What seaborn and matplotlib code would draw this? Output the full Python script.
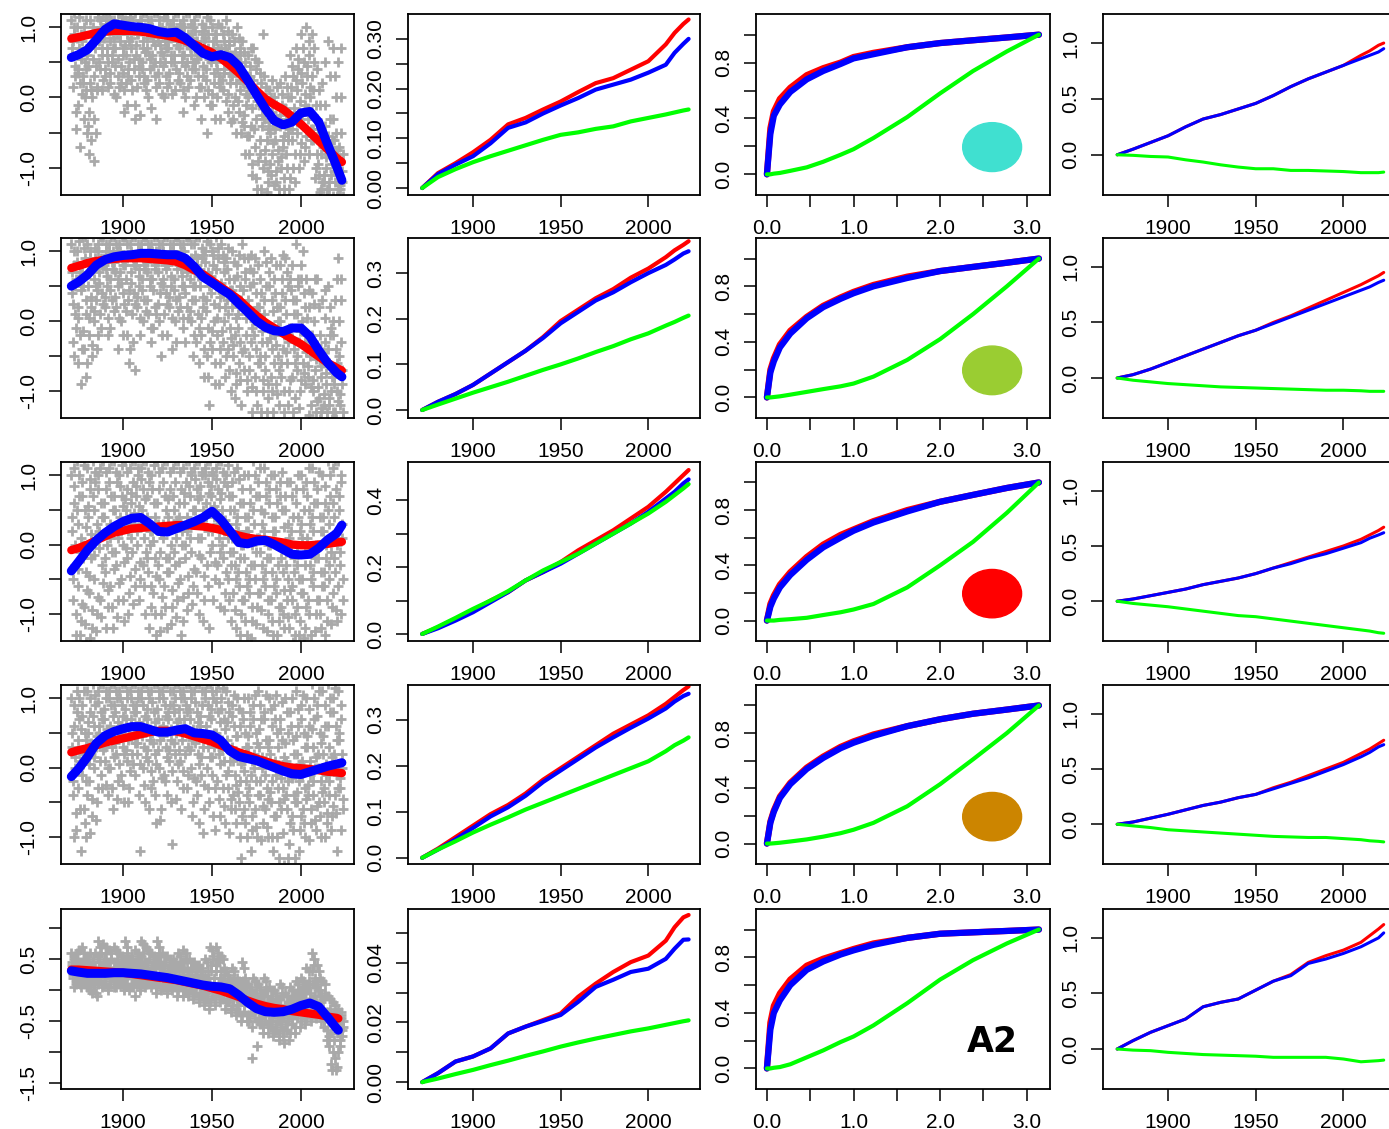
import matplotlib
matplotlib.use("Agg")
import matplotlib.pyplot as plt
import seaborn as sns
from matplotlib.patches import Ellipse

# ---------------- data ----------------
YEARS_SMOOTH = [1871, 1875, 1880, 1885, 1890, 1895, 1900, 1905, 1910, 1915, 1920, 1925, 1930,
                1935, 1940, 1945, 1950, 1955, 1960, 1965, 1970, 1975, 1980, 1985, 1990, 1995,
                2000, 2005, 2010, 2015, 2020, 2023]
YEARS_SMOOTH_R5 = YEARS_SMOOTH[:-1] + [2021]

R1_RED = [.84, .86, .89, .92, .94, .95, .95, .95, .94, .92, .90, .88, .85, .81, .76, .70, .64, .56, .46, .35, .23, .10, -.02, -.10, -.17, -.27, -.38, -.50, -.62, -.74, -.86, -.92]
R1_BLUE = [.57, .61, .68, .82, .97, 1.05, 1.03, 1.01, 1.0, .98, .94, .92, .93, .85, .74, .63, .58, .61, .57, .45, .25, .04, -.16, -.33, -.39, -.35, -.22, -.20, -.35, -.67, -.98, -1.18]
R2_RED = [.76, .79, .83, .86, .88, .89, .90, .90, .90, .89, .88, .87, .85, .80, .73, .67, .58, .49, .40, .31, .19, .08, -.02, -.10, -.18, -.26, -.33, -.42, -.51, -.60, -.67, -.71]
R2_BLUE = [.50, .56, .66, .80, .88, .92, .94, .95, .97, .97, .96, .95, .95, .90, .78, .63, .55, .46, .38, .25, .13, .0, -.09, -.14, -.15, -.10, -.10, -.22, -.42, -.60, -.74, -.80]
R3_RED = [-.08, -.05, .0, .06, .12, .17, .20, .23, .24, .25, .26, .27, .28, .28, .27, .26, .24, .21, .17, .13, .10, .08, .07, .05, .03, .0, -.01, -.01, .0, .01, .03, .04]
R3_BLUE = [-.38, -.25, -.08, .06, .17, .26, .33, .38, .39, .30, .19, .18, .23, .28, .33, .39, .48, .36, .20, .03, .01, .05, .06, .0, -.07, -.14, -.15, -.14, -.05, .07, .16, .28]
R4_RED = [.22, .25, .28, .32, .36, .39, .42, .45, .48, .51, .53, .53, .52, .49, .45, .41, .37, .32, .27, .22, .18, .13, .09, .05, .02, .0, -.01, -.02, -.04, -.06, -.07, -.08]
R4_BLUE = [-.13, -.02, .15, .35, .46, .52, .56, .59, .59, .55, .51, .51, .54, .56, .50, .49, .47, .39, .24, .16, .13, .10, .05, .0, -.05, -.09, -.10, -.06, -.02, .02, .05, .07]
R5_RED = [.33, .33, .32, .31, .30, .29, .28, .26, .24, .22, .20, .18, .16, .13, .10, .07, .03, -.01, -.06, -.11, -.17, -.22, -.26, -.29, -.31, -.34, -.36, -.38, -.40, -.43, -.45, -.46]
R5_BLUE = [.31, .29, .27, .27, .27, .28, .28, .27, .26, .24, .22, .20, .17, .14, .11, .08, .06, .05, .02, -.08, -.20, -.30, -.35, -.36, -.35, -.31, -.25, -.21, -.27, -.44, -.62, -.65]

# scatter clouds: two sets of values per 3-year bin
BIN_STARTS = list(range(1871, 2022, 3))
BIN_OFFSETS_A = [0.0, 1.5, 0.5, 2.0, 1.0, 2.5]
BIN_OFFSETS_B = [1.25, 0.25, 2.25, 0.75, 2.75, 1.75]

SCATTER_R1 = [
    [1.1, .9, .6, .3, .8, -.2], [1.0, .7, .4, .2, -.1, .9], [.8, .5, .3, .1, -.3, 1.1], [.6, .2, -.4, -.6, -.8, .9],
    [1.0, .7, .3, -.5, -.9, .1], [1.2, 1.0, .8, .6, .4, .1], [1.2, 1.1, .9, .7, .3, .5], [1.2, 1.0, .8, .5, .2, .9],
    [1.1, .9, .7, .3, .0, 1.2], [1.2, 1.0, .8, .6, .2, -.2], [1.1, .9, .6, .3, -.1, .8], [1.2, 1.0, .7, .4, .1, -.3],
    [1.2, .9, .6, .3, .9, 1.1], [1.1, .8, .5, .2, .7, 1.0], [1.2, 1.0, .7, .4, .0, .9], [1.1, .9, .6, .3, .8, -.3],
    [1.2, 1.0, .8, .5, .2, .9], [1.0, .8, .6, .3, .0, 1.1], [1.2, .9, .7, .5, .2, 1.0], [1.1, .9, .6, .4, .1, .8],
    [1.2, 1.0, .7, .5, .2, -.2], [1.1, .8, .6, .3, .0, .9], [1.2, .9, .7, .4, .6, 1.0], [1.1, .8, .5, .3, .0, .7],
    [1.2, .9, .6, .3, -.3, .8], [1.0, .7, .4, .1, -.5, .6], [1.1, .8, .5, .2, -.1, .9], [.9, .7, .5, .3, .0, -.3],
    [1.0, .8, .6, .4, .1, .7], [1.1, .8, .5, .2, -.2, .6], [.9, .6, .3, .0, -.3, .5], [1.0, .7, .4, .1, -.2, -.5],
    [.8, .5, .2, -.1, -.4, .3], [.6, .3, .0, -.4, -.8, -1.1], [.7, .4, .1, -.3, -.7, -1.3], [.5, .2, -.1, -.4, -.8, .9],
    [.3, .0, -.3, -.6, -.9, -1.2], [.1, -.2, -.5, -.8, -1.1, -.4], [.0, -.3, -.6, -.9, -1.2, -1.4], [.2, -.1, -.4, -.7, -1.0, -1.3],
    [.3, .0, -.3, -.6, -1.0, -1.3], [.6, .3, .0, -.3, -.6, -1.2], [.7, .4, .1, -.2, -.5, -.8], [.9, .5, .2, -.1, -.4, -.7],
    [1.0, .6, .3, .0, -.3, -.6], [.9, .5, .1, -.3, -.6, -1.0], [.4, -.1, -.5, -.8, -1.1, -1.3], [.2, -.4, -.7, -1.0, -1.2, -1.4],
    [.8, -.3, -.8, -1.1, -1.3, -.6], [.7, .0, -.6, -.9, -1.2, -1.4], [.5, -.5, -.9, -1.2, -1.3, -.8]]
SCATTER_R1_B = [
    [1.0, .7, .45, .15, -.45, 1.2], [1.15, .85, .55, .35, .05, -.7], [1.0, .65, .4, .2, -.5, .0], [.75, .45, .1, -.2, .0, 1.1],
    [.85, .55, .15, -.3, 1.15, .45], [1.1, .9, .7, .5, .25, .95], [1.05, .85, .6, .4, .15, 1.15], [1.1, .95, .7, .35, .05, .6],
    [1.05, .85, .55, .45, .15, .95], [1.15, .9, .7, .45, .1, .35], [1.0, .75, .5, .2, 1.15, .4], [1.1, .85, .55, .25, -.1, .95],
    [1.05, .75, .45, .15, -.25, .55], [1.2, .95, .65, .4, .1, .3], [1.1, .85, .55, .25, -.15, .6], [1.2, 1.0, .75, .45, .15, .5],
    [1.1, .9, .65, .35, .05, .75], [1.15, .9, .7, .45, .15, .5], [1.05, .8, .6, .35, .05, .85], [1.2, 1.0, .75, .5, .25, .95],
    [1.05, .85, .6, .35, .1, .9], [1.2, 1.0, .75, .45, .15, .5], [1.05, .8, .5, .25, -.1, .85], [1.2, .95, .65, .4, .15, .55],
    [1.05, .75, .45, .15, .0, .95], [1.15, .85, .55, .25, -.1, .9], [1.0, .65, .35, .05, -.3, .7], [1.05, .8, .6, .4, .15, .2],
    [.9, .7, .5, .25, -.05, .35], [.95, .65, .35, .05, -.35, .75], [.8, .5, .2, -.1, -.5, .65], [.85, .55, .25, -.05, -.35, .6],
    [.65, .35, .05, -.25, -.55, -.8], [.45, .15, -.15, -.55, -.95, .7], [.55, .25, -.05, -.45, -.9, -1.15], [.35, .05, -.25, -.6, -1.0, -1.3],
    [.15, -.15, -.45, -.75, -1.05, -1.35], [.0, -.35, -.65, -.95, -1.25, .25], [-.1, -.45, -.75, -1.05, -1.3, .15], [.05, -.25, -.55, -.85, -1.15, -.6],
    [.15, -.15, -.45, -.8, -1.15, -.5], [.45, .15, -.15, -.45, -.8, -1.0], [.55, .25, -.05, -.35, -.65, -1.0], [.7, .35, .05, -.25, -.55, -.9],
    [.8, .45, .15, -.15, -.45, -.8], [.7, .3, -.1, -.45, -.8, -1.15], [.1, -.3, -.65, -.95, -1.2, -1.35], [-.1, -.55, -.85, -1.1, -1.3, .5],
    [.3, -.55, -.95, -1.2, -1.4, -.7], [.3, -.3, -.75, -1.05, -1.3, -.5], [.0, -.7, -1.05, -1.25, -1.4, .7]]

SCATTER_R2 = [
    [1.1, .8, .4, .1, -.3, .6], [1.0, .6, .2, -.2, -.6, -.9], [1.2, .9, .5, .1, -.4, -.8], [1.1, .8, .5, .2, -.2, -.5],
    [1.2, .9, .6, .3, .0, -.4], [1.1, .9, .7, .4, .1, 1.2], [1.2, 1.0, .8, .5, .2, -.2], [1.1, .9, .6, .3, -.1, 1.0],
    [1.2, 1.0, .7, .5, .2, -.4], [1.1, .9, .7, .4, .0, 1.2], [1.2, .9, .6, .3, -.2, -.6], [1.1, .9, .7, .4, .1, -.7],
    [1.2, 1.0, .8, .5, .2, -.2], [1.1, .9, .6, .3, .0, 1.2], [1.2, 1.0, .7, .5, .1, -.3], [1.1, .9, .6, .2, -.1, 1.0],
    [1.2, 1.0, .7, .4, .0, -.5], [1.1, .9, .6, .4, .1, -.2], [1.2, 1.0, .8, .5, .2, -.4], [1.1, .9, .6, .3, .0, 1.2],
    [1.2, 1.0, .8, .5, .2, -.1], [1.1, .8, .5, .2, -.3, 1.2], [1.2, .9, .6, .3, .0, -.5], [1.1, .8, .5, .1, -.3, -.6],
    [1.2, .9, .5, .2, -.2, -.8], [1.0, .7, .3, -.1, -.5, -1.2], [1.1, .8, .4, .0, -.4, -.9], [1.2, .9, .5, .2, -.2, -.6],
    [1.1, .7, .4, .0, -.3, -.8], [.9, .6, .3, -.1, -.4, -1.0], [1.0, .6, .2, -.2, -.5, -.9], [.8, .5, .1, -.3, -.6, -1.2],
    [1.1, .6, .2, -.2, -.7, -1.0], [.9, .5, .1, -.3, -.7, -1.3], [.7, .4, .0, -.4, -.8, -1.2], [.8, .4, .0, -.3, -.6, -1.0],
    [1.0, .5, .1, -.3, -.7, -1.1], [.7, .3, -.1, -.4, -.8, -1.3], [.6, .2, -.2, -.5, -.9, -1.2], [.8, .4, .0, -.4, -.8, -1.3],
    [.9, .5, .1, -.3, -.6, -1.0], [.6, .3, -.1, -.4, -.8, -1.1], [1.1, .5, .1, -.3, -.7, -1.0], [.8, .4, .0, -.3, -.6, -.9],
    [.6, .2, -.2, -.5, -.8, -1.2], [.4, .0, -.4, -.7, -1.0, -1.3], [.6, -.2, -.5, -.8, -1.1, -1.3], [.3, -.3, -.6, -.9, -1.2, -1.4],
    [.5, -.2, -.6, -1.0, -1.2, -1.4], [.0, -.4, -.8, -1.0, -1.3, .6], [.9, .3, -.5, -.9, -1.2, -1.4]]
SCATTER_R2_B = [
    [1.0, .7, .5, .25, -.1, -.5], [1.15, .85, .45, .05, -.4, .7], [1.05, .7, .3, -.15, -.6, 1.2], [1.0, .7, .35, .05, -.35, .9],
    [1.05, .75, .45, .15, -.2, .5], [1.2, 1.0, .8, .55, .25, -.1], [1.1, .9, .65, .35, .05, .75], [1.2, 1.0, .75, .45, .15, .85],
    [1.1, .85, .6, .35, .05, .9], [1.2, 1.0, .8, .55, .25, -.2], [1.1, .8, .45, .15, -.4, .95], [1.2, 1.0, .8, .55, .25, -.3],
    [1.1, .9, .65, .35, .05, .75], [1.2, 1.0, .75, .45, .15, .8], [1.1, .85, .6, .3, -.1, .9], [1.2, 1.0, .75, .45, .1, .8],
    [1.1, .85, .55, .25, -.2, .9], [1.2, 1.0, .75, .5, .25, .8], [1.1, .9, .65, .35, .05, .9], [1.2, 1.0, .75, .45, .15, -.3],
    [1.1, .9, .65, .35, .05, .75], [1.2, 1.0, .7, .4, .05, .85], [1.1, .8, .5, .15, -.2, .75], [1.2, .95, .65, .3, -.1, .9],
    [1.05, .75, .35, .05, -.4, .95], [1.15, .85, .5, .15, -.3, -.8], [1.0, .65, .25, -.15, -.6, .95], [1.05, .75, .35, .05, -.4, -.9],
    [.95, .55, .2, -.15, -.5, .85], [1.05, .75, .45, .1, -.25, -.7], [.85, .45, .05, -.35, -.75, -1.1], [.95, .65, .3, -.1, -.45, -.85],
    [.9, .45, .05, -.4, -.85, .7], [.75, .3, -.1, -.5, -.95, .95], [.9, .55, .2, -.2, -.6, -1.0], [.6, .2, -.15, -.5, -.85, -1.3],
    [.85, .3, -.1, -.5, -.9, -1.3], [.9, .5, .15, -.25, -.6, -1.0], [.8, .4, .0, -.35, -.7, -1.05], [.6, .2, -.2, -.6, -1.0, .95],
    [.7, .3, -.1, -.45, -.85, -1.2], [.8, .45, .1, -.25, -.6, -1.3], [.6, .3, -.15, -.5, -.85, -1.25], [1.0, .6, .2, -.15, -.45, -.75],
    [.45, .05, -.35, -.65, -.95, -1.35], [.25, -.2, -.55, -.85, -1.15, .6], [.2, -.35, -.65, -.95, -1.25, -1.4], [.05, -.45, -.75, -1.05, -1.3, .45],
    [.2, -.4, -.8, -1.1, -1.3, -.1], [.3, -.2, -.6, -.9, -1.15, -1.4], [.6, .0, -.7, -1.05, -1.3, -.3]]

SCATTER_R3 = [
    [1.0, .6, .2, -.3, -.8, -1.3], [1.2, .7, .3, -.1, -.6, -1.1], [.9, .5, .0, -.4, -.9, -1.4], [1.1, .8, .4, -.2, -.7, -1.2],
    [1.2, .9, .5, .1, -.5, -1.0], [1.0, .6, .2, -.3, -.8, 1.2], [1.2, .8, .4, .0, -.4, -.9], [1.1, .7, .3, -.1, -.6, -1.2],
    [1.2, .9, .5, .1, -.3, -.8], [1.0, .7, .4, .0, -.5, -1.1], [1.2, .8, .5, .2, -.2, -.7], [1.1, .9, .6, .3, -.1, -.6],
    [1.2, 1.0, .7, .4, .0, -.5], [1.1, .8, .5, .1, -.3, -1.0], [1.2, .9, .4, .0, -.4, -.9], [1.0, .6, .2, -.2, -.7, -1.3],
    [1.2, .8, .3, -.1, -.5, -1.0], [1.1, .7, .3, -.2, -.6, -1.2], [1.2, .8, .4, .0, -.4, -.9], [1.1, .9, .5, .1, -.3, -.8],
    [1.2, .8, .4, .0, -.5, -1.1], [1.1, .9, .6, .2, -.2, -.7], [1.2, 1.0, .7, .3, -.1, -.6], [1.1, .8, .5, .1, -.4, -1.0],
    [1.2, 1.0, .7, .3, -.2, -.8], [1.1, .9, .6, .2, -.3, -1.2], [1.2, 1.0, .7, .4, .0, -.5], [1.1, .8, .5, .1, -.3, -.9],
    [1.2, .9, .5, .2, -.2, -.7], [1.0, .7, .3, -.1, -.5, -1.1], [.9, .5, .1, -.3, -.7, -1.2], [1.1, .6, .2, -.2, -.6, -1.0],
    [.8, .4, .0, -.4, -.8, -1.3], [1.0, .6, .2, -.3, -.7, -1.1], [1.2, .7, .3, -.1, -.5, -.9], [.9, .5, .1, -.3, -.7, -1.2],
    [1.1, .7, .2, -.2, -.6, -1.0], [.8, .4, .0, -.4, -.8, -1.3], [1.0, .6, .2, -.3, -.7, -1.1], [.9, .5, .0, -.4, -.9, -1.2],
    [.7, .3, -.1, -.5, -.8, -1.2], [.9, .4, .0, -.4, -.8, -1.3], [.8, .4, -.1, -.5, -.9, -1.1], [1.0, .5, .1, -.3, -.7, -1.2],
    [.9, .5, .1, -.3, -.8, -1.3], [1.1, .6, .2, -.2, -.6, -1.0], [.8, .4, .0, -.4, -.8, -1.2], [1.0, .6, .2, -.2, -.6, -1.1],
    [1.2, .7, .3, -.1, -.5, -.9], [1.1, .8, .4, .0, -.4, -1.1], [1.2, .9, .5, .1, -.3, -.8]]
SCATTER_R3_B = [
    [.85, .4, .0, -.5, -1.0, 1.1], [1.0, .5, .1, -.35, -.85, -1.3], [1.15, .7, .25, -.2, -.65, -1.15], [.95, .55, .15, -.45, -.95, -1.35],
    [1.05, .7, .3, -.15, -.75, -1.25], [1.1, .8, .4, -.05, -.55, -1.05], [1.05, .6, .2, -.2, -.65, -1.2], [1.2, .9, .5, .1, -.35, -.9],
    [1.05, .7, .3, -.1, -.55, -1.05], [1.15, .85, .55, .2, -.25, -.8], [1.05, .65, .3, -.05, -.45, -1.0], [1.2, .75, .45, .1, -.35, -.85],
    [1.1, .85, .55, .2, -.25, -.8], [1.2, .95, .65, .3, -.1, -.6], [1.05, .7, .2, -.2, -.6, -1.2], [1.15, .8, .4, .05, -.45, -1.0],
    [1.05, .6, .15, -.3, -.75, -1.25], [1.2, .9, .5, .1, -.4, -.9], [1.05, .65, .25, -.2, -.65, -1.15], [1.2, .7, .35, -.1, -.55, -1.05],
    [1.05, .6, .2, -.25, -.75, -1.3], [1.2, .75, .4, .0, -.45, -.95], [1.05, .85, .5, .1, -.35, -.85], [1.2, .95, .65, .3, -.15, -.7],
    [1.05, .85, .5, .1, -.45, -1.1], [1.2, 1.0, .75, .4, -.1, -.6], [1.05, .85, .55, .2, -.25, -.8], [1.2, .95, .65, .3, -.1, -.55],
    [1.05, .75, .35, .0, -.4, -.95], [1.15, .85, .5, .1, -.3, -.8], [1.05, .7, .3, -.1, -.5, -.95], [.95, .4, .0, -.4, -.8, -1.3],
    [1.0, .6, .2, -.2, -.6, -1.1], [.8, .4, .0, -.5, -.9, -1.35], [1.0, .5, .1, -.3, -.7, -1.15], [1.1, .7, .3, -.1, -.5, -.95],
    [.9, .45, .0, -.4, -.8, -1.25], [1.0, .6, .2, -.2, -.6, -1.1], [.8, .4, .0, -.5, -.9, -1.3], [1.05, .7, .25, -.2, -.65, -1.0],
    [.9, .5, .1, -.3, -.65, -1.05], [.7, .2, -.2, -.6, -1.0, -1.4], [1.0, .6, .2, -.3, -.7, -1.3], [.8, .3, -.1, -.5, -.9, -1.35],
    [1.1, .7, .3, -.1, -.5, -1.0], [.9, .4, .0, -.4, -.8, -1.25], [1.05, .6, .2, -.2, -.6, -1.0], [.85, .4, .0, -.4, -.8, -1.3],
    [1.0, .5, .1, -.3, -.7, -1.15], [1.2, .6, .2, -.2, -.6, -.95], [1.0, .7, .3, -.1, -.5, -1.0]]

SCATTER_R4 = [
    [1.0, .6, .3, .0, -.4, -.9], [1.1, .7, .4, .1, -.3, -1.2], [.9, .5, .2, -.2, -.6, -1.0], [1.1, .8, .5, .2, -.2, -.7],
    [1.2, .9, .6, .3, .0, -.5], [1.1, .8, .6, .4, .1, -.3], [1.2, 1.0, .7, .4, .1, -.4], [1.1, .9, .6, .3, .0, -.6],
    [1.2, 1.0, .8, .5, .2, -.2], [1.1, .9, .6, .3, -.1, -.5], [1.2, 1.0, .7, .4, .1, -.3], [1.1, .9, .7, .5, .2, -.1],
    [1.2, 1.0, .8, .5, .2, -1.2], [1.1, .9, .6, .3, .0, -.5], [1.2, 1.0, .7, .4, .1, -.3], [1.1, .8, .5, .2, -.2, -.8],
    [1.2, 1.0, .7, .4, .0, -.6], [1.1, .9, .6, .3, -.1, -.4], [1.2, .9, .7, .4, .1, -1.1], [1.1, 1.0, .8, .5, .2, -.2],
    [1.2, 1.0, .7, .4, .1, -.3], [1.1, .9, .7, .5, .2, -.1], [1.2, 1.0, .7, .4, .0, -.5], [1.1, .8, .5, .2, -.2, -.8],
    [1.2, .9, .6, .3, -.1, -.6], [1.1, .9, .6, .3, .0, -.5], [1.2, 1.0, .7, .3, -.1, -.9], [1.1, .8, .5, .2, -.2, -.7],
    [1.0, .7, .4, .1, -.3, -.8], [1.1, .8, .4, .1, -.3, -.6], [.9, .6, .3, -.1, -.4, -.8], [1.0, .6, .2, -.2, -.5, -1.3],
    [.8, .5, .1, -.2, -.6, -1.0], [1.0, .6, .3, -.1, -.5, -.9], [.9, .5, .2, -.2, -.6, -1.0], [1.1, .7, .3, .0, -.4, -.8],
    [.8, .4, .1, -.3, -.6, -1.0], [1.0, .6, .2, -.2, -.5, -1.2], [.9, .5, .1, -.3, -.7, -1.3], [.7, .4, .0, -.3, -.6, -1.4],
    [1.0, .5, .1, -.2, -.6, -1.1], [.8, .4, .0, -.4, -.7, -1.3], [1.1, .6, .2, -.2, -.5, -.9], [.9, .5, .1, -.3, -.6, -1.0],
    [1.0, .6, .3, -.1, -.4, -.8], [1.2, .7, .3, .0, -.4, -.9], [.9, .5, .2, -.2, -.5, -1.0], [1.1, .6, .2, -.1, -.5, -.8],
    [1.2, .8, .3, .0, -.4, -.7], [1.0, .6, .2, -.1, -.4, -1.2], [1.1, .7, .4, .0, -.3, -.6]]
SCATTER_R4_B = [
    [.9, .5, .15, -.2, -.65, -1.0], [1.0, .8, .55, .25, -.1, -.6], [1.1, .75, .4, .05, -.4, -.8], [1.0, .65, .35, .05, -.45, -.95],
    [1.05, .75, .45, .15, -.3, -.75], [1.2, .95, .7, .5, .25, -.1], [1.1, .85, .55, .3, .0, -.25], [1.2, 1.0, .75, .45, .15, -.3],
    [1.1, .9, .65, .35, .05, -.45], [1.2, 1.0, .75, .5, .2, -.25], [1.1, .85, .55, .25, -.05, -.5], [1.2, 1.0, .8, .6, .35, .05],
    [1.1, .9, .65, .35, .05, -.4], [1.2, 1.0, .75, .45, .15, -.25], [1.1, .85, .55, .25, -.05, -.6], [1.2, .95, .65, .35, .05, -.4],
    [1.1, .85, .55, .25, -.15, -.75], [1.2, 1.0, .75, .45, .15, -.2], [1.1, .8, .55, .25, -.05, -.5], [1.2, .9, .65, .35, .05, -.45],
    [1.1, .85, .55, .25, -.05, -.6], [1.2, 1.0, .8, .55, .3, -.3], [1.1, .85, .55, .25, -.15, -.7], [1.2, .95, .65, .35, .05, -.4],
    [1.1, .75, .45, .15, -.25, -.95], [1.2, 1.0, .75, .45, .15, -.3], [1.1, .85, .5, .15, -.3, -.7], [1.2, .95, .65, .35, .05, -.45],
    [1.15, .85, .55, .25, -.1, -.55], [.95, .65, .25, -.05, -.45, -.95], [1.05, .75, .45, .1, -.25, -.6], [.85, .45, .05, -.35, -.7, -1.0],
    [1.0, .7, .3, -.05, -.4, -.8], [.8, .45, .1, -.3, -.7, -1.2], [1.05, .7, .35, .0, -.4, -.85], [.9, .55, .15, -.2, -.55, -1.05],
    [1.05, .7, .3, -.1, -.45, -.85], [.85, .4, .05, -.35, -.7, -1.0], [1.05, .7, .3, -.1, -.5, -1.0], [.95, .55, .15, -.15, -.45, -.95],
    [.8, .35, -.05, -.4, -.8, -1.3], [1.0, .6, .2, -.15, -.5, -.9], [.85, .45, .05, -.35, -.7, -1.2], [1.05, .7, .3, -.1, -.45, -.8],
    [.85, .45, .1, -.25, -.6, -1.05], [1.0, .55, .15, -.2, -.55, -.75], [1.1, .75, .35, .0, -.35, -.7], [.9, .45, .05, -.3, -.65, -1.0],
    [1.0, .6, .15, -.2, -.55, -.9], [1.15, .8, .4, .05, -.3, -.65], [.9, .5, .2, -.15, -.45, -.9]]

SCATTER_R5 = [
    [.6, .5, .4, .3, .2, .1], [.6, .45, .35, .25, .15, .05], [.7, .5, .35, .2, .1, .3], [.55, .4, .3, .2, .1, -.05],
    [.5, .35, .25, .15, .05, -.1], [.8, .6, .45, .3, .15, .05], [.75, .6, .4, .25, .1, .0], [.65, .5, .35, .2, .1, .3],
    [.7, .5, .35, .2, .05, .4], [.6, .45, .3, .2, .1, .0], [.8, .6, .4, .25, .1, .0], [.5, .4, .3, .2, .1, -.1],
    [.65, .5, .35, .2, .1, .0], [.8, .6, .4, .25, .15, .05], [.7, .5, .35, .2, .1, .3], [.6, .45, .3, .2, .1, -.05],
    [.8, .6, .4, .25, .1, .0], [.6, .45, .3, .15, .05, -.05], [.55, .4, .3, .2, .1, .0], [.5, .4, .25, .15, .05, -.1],
    [.6, .45, .3, .15, .05, -.1], [.65, .5, .3, .15, .0, -.1], [.5, .35, .2, .1, .0, -.15], [.45, .3, .2, .1, -.05, -.2],
    [.4, .3, .15, .0, -.1, -.25], [.5, .3, .15, .0, -.15, -.3], [.7, .5, .3, .1, -.1, -.25], [.7, .5, .3, .1, -.05, -.2],
    [.55, .35, .15, .0, -.15, -.3], [.3, .15, .0, -.1, -.2, -.35], [.35, .2, .05, -.1, -.25, -.4], [.2, .05, -.1, -.2, -.35, -.5],
    [.45, .2, .0, -.2, -.35, -.5], [.1, -.05, -.2, -.35, -.5, -1.1], [.2, .0, -.15, -.3, -.45, -.9], [.1, -.1, -.25, -.4, -.55, -.7],
    [.2, .0, -.2, -.35, -.5, -.7], [.05, -.15, -.3, -.45, -.6, -.75], [.0, -.2, -.35, -.5, -.65, -.8], [.1, -.1, -.3, -.45, -.6, -.85],
    [-.05, -.2, -.35, -.5, -.65, -.8], [.05, -.1, -.25, -.4, -.55, -.7], [.15, .0, -.15, -.3, -.45, -.6], [.2, .05, -.1, -.25, -.4, -.55],
    [.35, .15, .0, -.15, -.3, -.5], [.6, .4, .1, -.1, -.25, -.45], [.4, .2, .0, -.2, -.35, -.5], [.15, -.1, -.3, -.45, -.6, -.8],
    [-.1, -.3, -.5, -.7, -.9, -1.3], [-.2, -.35, -.5, -.7, -1.1, -1.25], [-.3, -.45, -.6, -.75, -.9, -.5]]
SCATTER_R5_B = [
    [.55, .45, .35, .25, .15, .05], [.65, .5, .4, .3, .2, .1], [.6, .45, .3, .15, .05, .4], [.6, .45, .35, .25, .15, .0],
    [.6, .45, .3, .2, .1, -.05], [.7, .55, .4, .25, .1, .35], [.7, .5, .35, .2, .05, .45], [.6, .45, .3, .15, .05, .25],
    [.65, .45, .3, .15, .1, .25], [.55, .4, .25, .15, .05, .35], [.7, .5, .35, .2, .05, .45], [.55, .45, .35, .25, .15, .05],
    [.6, .45, .3, .15, .05, .4], [.75, .55, .35, .2, .1, .45], [.65, .45, .3, .15, .05, .25], [.55, .4, .25, .15, .05, .35],
    [.7, .5, .35, .2, .05, .45], [.55, .4, .25, .1, .0, .2], [.5, .35, .25, .15, .05, .3], [.45, .35, .2, .1, .0, .3],
    [.55, .4, .25, .1, .0, .35], [.6, .45, .25, .1, -.05, .35], [.45, .3, .15, .05, -.05, .25], [.4, .25, .15, .05, -.1, .35],
    [.35, .25, .1, -.05, -.15, .2], [.45, .25, .1, -.05, -.2, .2], [.65, .4, .2, .05, -.15, .55], [.6, .4, .2, .05, -.1, .45],
    [.5, .3, .1, -.05, -.2, .25], [.25, .1, -.05, -.15, -.3, .2], [.3, .15, .0, -.15, -.3, .1], [.15, .0, -.15, -.25, -.4, .1],
    [.35, .15, -.05, -.25, -.4, .05], [.05, -.1, -.25, -.4, -.6, .0], [.15, -.05, -.2, -.35, -.5, -.1], [.05, -.15, -.3, -.45, -.6, -.05],
    [.15, -.05, -.25, -.4, -.55, -.1], [.0, -.2, -.35, -.5, -.65, -.1], [-.05, -.25, -.4, -.55, -.7, -.15], [.05, -.15, -.35, -.5, -.65, -.75],
    [-.1, -.25, -.4, -.55, -.7, -.3], [.0, -.15, -.3, -.45, -.6, -.2], [.1, -.05, -.2, -.35, -.5, -.1], [.15, .0, -.15, -.3, -.45, -.05],
    [.3, .1, -.05, -.2, -.35, .05], [.5, .3, .05, -.15, -.3, .2], [.3, .1, -.1, -.25, -.4, .0], [.1, -.15, -.35, -.5, -.65, -.05],
    [-.15, -.35, -.55, -.75, -1.0, -1.2], [-.25, -.4, -.55, -.8, -1.0, -1.3], [-.35, -.5, -.65, -.8, -.6, -.4]]

# cumulative (col 2) and trend (col 4) series on a common year grid
YEARS = [1871, 1880, 1890, 1900, 1910, 1920, 1930, 1940, 1950, 1960, 1970, 1980, 1990, 2000, 2010, 2015, 2020, 2023]

C2_R1_RED = [0, .03, .05, .072, .097, .128, .141, .158, .174, .193, .211, .221, .238, .255, .289, .312, .330, .339]
C2_R1_BLUE = [0, .028, .047, .064, .090, .121, .132, .150, .166, .181, .198, .208, .218, .232, .248, .272, .290, .300]
C2_R1_GREEN = [0, .022, .038, .052, .064, .075, .086, .097, .107, .112, .119, .124, .134, .141, .148, .152, .156, .158]
C2_R2_RED = [0, .018, .035, .055, .080, .105, .130, .160, .195, .220, .245, .265, .290, .310, .335, .350, .362, .370]
C2_R2_BLUE = [0, .018, .035, .055, .080, .105, .130, .158, .190, .215, .240, .258, .280, .300, .318, .330, .343, .348]
C2_R2_GREEN = [0, .012, .025, .038, .050, .062, .075, .088, .100, .113, .127, .140, .155, .168, .185, .193, .202, .207]
C2_R3_RED = [0, .020, .045, .070, .100, .125, .160, .185, .215, .250, .280, .310, .345, .380, .425, .450, .475, .490]
C2_R3_BLUE = [0, .017, .040, .065, .095, .125, .160, .185, .210, .240, .270, .300, .330, .365, .405, .425, .450, .462]
C2_R3_GREEN = [0, .022, .048, .075, .100, .128, .160, .190, .215, .240, .270, .300, .330, .360, .395, .415, .435, .448]
C2_R4_RED = [0, .020, .045, .070, .095, .115, .140, .170, .195, .220, .245, .270, .290, .310, .335, .350, .365, .373]
C2_R4_BLUE = [0, .018, .040, .065, .090, .110, .135, .165, .190, .215, .240, .262, .283, .303, .325, .340, .352, .357]
C2_R4_GREEN = [0, .018, .036, .055, .072, .088, .105, .120, .135, .150, .165, .180, .195, .210, .232, .245, .255, .262]
C2_R5_RED = [0, .0030, .0069, .0086, .0113, .0163, .0186, .0208, .0230, .0286, .0330, .0369, .0402, .0424, .0474, .0519, .0552, .0560]
C2_R5_BLUE = [0, .0030, .0069, .0086, .0113, .0163, .0186, .0205, .0225, .0269, .0319, .0343, .0369, .0380, .0413, .0447, .0477, .0478]
C2_R5_GREEN = [0, .0012, .0027, .0041, .0057, .0072, .0088, .0103, .0119, .0133, .0146, .0158, .0170, .0180, .0192, .0198, .0204, .0207]

C4_R1_RED = [0, .05, .11, .17, .25, .32, .36, .41, .46, .53, .61, .68, .74, .80, .89, .93, .98, 1.0]
C4_R1_BLUE = [0, .05, .11, .17, .25, .32, .36, .41, .46, .53, .61, .68, .74, .80, .86, .89, .92, .95]
C4_R1_GREEN = [0, -.005, -.015, -.02, -.045, -.065, -.09, -.11, -.125, -.125, -.14, -.14, -.145, -.15, -.16, -.16, -.16, -.155]
C4_R2_RED = [0, .03, .08, .14, .20, .26, .32, .38, .43, .50, .56, .63, .70, .77, .84, .88, .92, .95]
C4_R2_BLUE = [0, .03, .08, .14, .20, .26, .32, .38, .43, .49, .55, .61, .67, .73, .79, .82, .86, .88]
C4_R2_GREEN = [0, -.02, -.035, -.05, -.06, -.07, -.08, -.085, -.09, -.095, -.10, -.105, -.11, -.11, -.115, -.12, -.12, -.12]
C4_R3_RED = [0, .02, .05, .08, .11, .15, .18, .21, .25, .30, .35, .40, .45, .50, .56, .60, .64, .67]
C4_R3_BLUE = [0, .02, .05, .08, .11, .15, .18, .21, .25, .30, .34, .39, .43, .48, .53, .57, .60, .62]
C4_R3_GREEN = [0, -.02, -.035, -.05, -.07, -.09, -.11, -.13, -.14, -.16, -.18, -.20, -.22, -.24, -.26, -.27, -.285, -.29]
C4_R4_RED = [0, .02, .055, .09, .13, .17, .20, .24, .27, .33, .38, .44, .50, .56, .64, .68, .73, .76]
C4_R4_BLUE = [0, .02, .055, .09, .13, .17, .20, .24, .27, .32, .37, .42, .48, .54, .61, .65, .70, .72]
C4_R4_GREEN = [0, -.015, -.03, -.05, -.06, -.07, -.08, -.09, -.10, -.11, -.115, -.12, -.12, -.13, -.14, -.15, -.155, -.16]
C4_R5_RED = [0, .075, .15, .21, .27, .38, .42, .45, .53, .61, .67, .78, .84, .89, .96, 1.02, 1.08, 1.12]
C4_R5_BLUE = [0, .075, .15, .21, .27, .38, .42, .45, .53, .61, .66, .77, .81, .86, .92, .96, 1.0, 1.045]
C4_R5_GREEN = [0, -.01, -.015, -.03, -.04, -.05, -.055, -.06, -.065, -.075, -.075, -.075, -.075, -.09, -.115, -.11, -.105, -.10]

# curves in column 3 (x from 0 to pi)
C3_X = [0, 0.04, 0.08, 0.15, 0.27, 0.46, 0.65, 0.85, 1.0, 1.23, 1.62, 2.0, 2.38, 2.77, 3.14]
C3_R1_RED = [0, .33, .45, .54, .62, .71, .76, .80, .84, .87, .91, .94, .96, .98, 1.0]
C3_R1_BLUE = [0, .29, .42, .50, .59, .68, .74, .79, .83, .86, .91, .94, .96, .98, 1.0]
C3_R1_GREEN = [0, 0, .005, .01, .025, .05, .09, .14, .18, .26, .41, .58, .74, .88, 1.0]
C3_R2_RED = [0, .20, .28, .38, .48, .58, .66, .72, .76, .81, .87, .91, .94, .97, 1.0]
C3_R2_BLUE = [0, .18, .26, .36, .46, .57, .65, .71, .75, .80, .86, .91, .94, .97, 1.0]
C3_R2_GREEN = [0, 0, .003, .008, .02, .04, .06, .08, .10, .15, .27, .42, .60, .80, 1.0]
C3_R3_RED = [0, .12, .18, .26, .35, .46, .55, .62, .66, .72, .80, .86, .91, .96, 1.0]
C3_R3_BLUE = [0, .10, .16, .24, .33, .44, .53, .60, .65, .71, .79, .86, .91, .96, 1.0]
C3_R3_GREEN = [0, 0, 0, .005, .01, .02, .04, .06, .08, .12, .24, .40, .57, .78, 1.0]
C3_R4_RED = [0, .16, .24, .34, .44, .55, .63, .70, .74, .79, .85, .90, .94, .97, 1.0]
C3_R4_BLUE = [0, .15, .23, .33, .43, .54, .62, .69, .73, .78, .85, .90, .94, .97, 1.0]
C3_R4_GREEN = [0, 0, .002, .006, .015, .03, .05, .075, .10, .15, .27, .43, .61, .80, 1.0]
C3_R5_RED = [0, .33, .45, .54, .64, .74, .79, .83, .86, .90, .94, .97, .98, .99, 1.0]
C3_R5_BLUE = [0, .28, .40, .49, .60, .71, .77, .82, .85, .89, .94, .97, .98, .99, 1.0]
C3_R5_GREEN = [0, 0, .005, .01, .03, .08, .13, .19, .23, .31, .47, .64, .78, .90, 1.0]

DOT_COLORS = ["#40E0D0", "#9ACD32", "#FF0000", "#CC8500", None]
PANEL_TAG = "A2"

C1_YTICKS = [[-1.0, -0.5, 0.0, 0.5, 1.0]] * 4 + [[-1.5, -1.0, -0.5, 0.0, 0.5, 1.0]]
C1_YLABELS = [["-1.0", "", "0.0", "", "1.0"]] * 4 + [["-1.5", "", "-0.5", "", "0.5", ""]]
C2_YTICKS = [[0, .05, .10, .15, .20, .25, .30], [0, .1, .2, .3], [0, .1, .2, .3, .4], [0, .1, .2, .3],
             [0, .01, .02, .03, .04, .05]]
C2_YLABELS = [["0.00", "", "0.10", "", "0.20", "", "0.30"], ["0.0", "0.1", "0.2", "0.3"],
              ["0.0", "", "0.2", "", "0.4"], ["0.0", "0.1", "0.2", "0.3"], ["0.00", "", "0.02", "", "0.04", ""]]
YEAR_TICKS = [1900, 1950, 2000]
YEAR_LABELS = ["1900", "1950", "2000"]
C3_XTICKS = [0, .5, 1, 1.5, 2, 2.5, 3]
C3_XLABELS = ["0.0", "", "1.0", "", "2.0", "", "3.0"]
C3_YTICKS = [0, .2, .4, .6, .8, 1.0]
C3_YLABELS = ["0.0", "", "0.4", "", "0.8", ""]
C4_YTICKS = [0, .5, 1.0]
C4_YLABELS = ["0.0", "0.5", "1.0"]

# ---------------- layout ----------------
sns.set_style("white")
plt.rcParams["font.family"] = ["Liberation Sans", "DejaVu Sans"]

W, H = 1389, 1129
fig = plt.figure(figsize=(W / 100, H / 100), dpi=100)

COL_X = [(61, 354), (408, 700), (756, 1050), (1103, 1396)]
ROW_Y = [(14, 195), (238, 418), (462, 641), (685, 864), (909, 1089)]
C1_YLIM = [(-1.39, 1.19)] * 4 + [(-1.6, 1.31)]
C2_YLIM = [(-0.014, 0.350), (-0.0175, 0.377), (-0.021, 0.514), (-0.0135, 0.376), (-0.0023, 0.058)]

RED, BLUE, GREEN, GRAY = "#FF0000", "#0000FF", "#00FF00", "#A9A9A9"


def add_ax(r, c):
    (l, rr), (t, b) = COL_X[c], ROW_Y[r]
    return fig.add_axes([l / W, 1 - b / H, (rr - l) / W, (b - t) / H])


def style(ax, xlim, ylim, xticks, xlabels, yticks, ylabels):
    ax.set_xlim(xlim)
    ax.set_ylim(ylim)
    ax.set_xticks(xticks)
    ax.set_xticklabels(xlabels)
    ax.set_yticks(yticks)
    ax.set_yticklabels(ylabels, rotation=90, va="center")
    ax.tick_params(axis="both", direction="out", length=8.5, width=1.1, labelsize=15,
                   colors="black", bottom=True, left=True)
    ax.tick_params(axis="x", pad=8.5)
    ax.tick_params(axis="y", pad=8)
    for s in ax.spines.values():
        s.set_visible(True)
        s.set_color("black")
        s.set_linewidth(1.3)
    ax.set_xlabel("")
    ax.set_ylabel("")
    ax.grid(False)


def line(ax, x, y, color, lw):
    sns.lineplot(x=x, y=y, ax=ax, color=color, linewidth=lw, estimator=None, sort=False,
                 solid_capstyle="round", solid_joinstyle="round")


SCATTERS = [(SCATTER_R1, SCATTER_R1_B), (SCATTER_R2, SCATTER_R2_B), (SCATTER_R3, SCATTER_R3_B),
            (SCATTER_R4, SCATTER_R4_B), (SCATTER_R5, SCATTER_R5_B)]
SMOOTH = [(R1_RED, R1_BLUE), (R2_RED, R2_BLUE), (R3_RED, R3_BLUE), (R4_RED, R4_BLUE), (R5_RED, R5_BLUE)]
CUM = [(C2_R1_RED, C2_R1_BLUE, C2_R1_GREEN), (C2_R2_RED, C2_R2_BLUE, C2_R2_GREEN),
       (C2_R3_RED, C2_R3_BLUE, C2_R3_GREEN), (C2_R4_RED, C2_R4_BLUE, C2_R4_GREEN),
       (C2_R5_RED, C2_R5_BLUE, C2_R5_GREEN)]
CURVES = [(C3_R1_RED, C3_R1_BLUE, C3_R1_GREEN), (C3_R2_RED, C3_R2_BLUE, C3_R2_GREEN),
          (C3_R3_RED, C3_R3_BLUE, C3_R3_GREEN), (C3_R4_RED, C3_R4_BLUE, C3_R4_GREEN),
          (C3_R5_RED, C3_R5_BLUE, C3_R5_GREEN)]
TRENDS = [(C4_R1_RED, C4_R1_BLUE, C4_R1_GREEN), (C4_R2_RED, C4_R2_BLUE, C4_R2_GREEN),
          (C4_R3_RED, C4_R3_BLUE, C4_R3_GREEN), (C4_R4_RED, C4_R4_BLUE, C4_R4_GREEN),
          (C4_R5_RED, C4_R5_BLUE, C4_R5_GREEN)]

for r in range(5):
    # column 1: scatter + smooth lines
    ax = add_ax(r, 0)
    xs, ys = [], []
    set_a, set_b = SCATTERS[r]
    for offsets, data in ((BIN_OFFSETS_A, set_a), (BIN_OFFSETS_B, set_b)):
        for start, vals in zip(BIN_STARTS, data):
            for off, v in zip(offsets, vals):
                xs.append(start + off)
                ys.append(v)
    sns.scatterplot(x=xs, y=ys, ax=ax, marker="+", color=GRAY, s=42, linewidth=2.0, zorder=1)
    yrs = YEARS_SMOOTH_R5 if r == 4 else YEARS_SMOOTH
    red, blue = SMOOTH[r]
    line(ax, yrs, red, RED, 6.0)
    line(ax, yrs, blue, BLUE, 6.5)
    style(ax, (1865.2, 2029.8), C1_YLIM[r], YEAR_TICKS, YEAR_LABELS, C1_YTICKS[r], C1_YLABELS[r])

    # column 2: cumulative sums
    ax = add_ax(r, 1)
    red, blue, green = CUM[r]
    line(ax, YEARS, red, RED, 3.0)
    line(ax, YEARS, blue, BLUE, 3.0)
    line(ax, YEARS, green, GREEN, 3.0)
    style(ax, (1862.9, 2029.5), C2_YLIM[r], YEAR_TICKS, YEAR_LABELS, C2_YTICKS[r], C2_YLABELS[r])

    # column 3: curves from 0 to pi
    ax = add_ax(r, 2)
    red, blue, green = CURVES[r]
    line(ax, C3_X, red, RED, 4.5)
    line(ax, C3_X, blue, BLUE, 4.5)
    line(ax, C3_X, green, GREEN, 3.0)
    if DOT_COLORS[r] is not None:
        ax.add_patch(Ellipse((2.6, 0.195), width=0.68, height=0.35, color=DOT_COLORS[r], zorder=5))
    else:
        ax.text(2.6, 0.19, PANEL_TAG, ha="center", va="center", fontsize=25,
                fontweight="bold", family="DejaVu Sans", color="black")
    style(ax, (-0.126, 3.268), (-0.148, 1.148), C3_XTICKS, C3_XLABELS, C3_YTICKS, C3_YLABELS)

    # column 4: trends
    ax = add_ax(r, 3)
    red, blue, green = TRENDS[r]
    line(ax, YEARS, red, RED, 2.2)
    line(ax, YEARS, blue, BLUE, 2.2)
    line(ax, YEARS, green, GREEN, 2.2)
    style(ax, (1862.9, 2030.0), (-0.36, 1.26), YEAR_TICKS, YEAR_LABELS, C4_YTICKS, C4_YLABELS)

fig.savefig("out.png", dpi=100, facecolor="white")
